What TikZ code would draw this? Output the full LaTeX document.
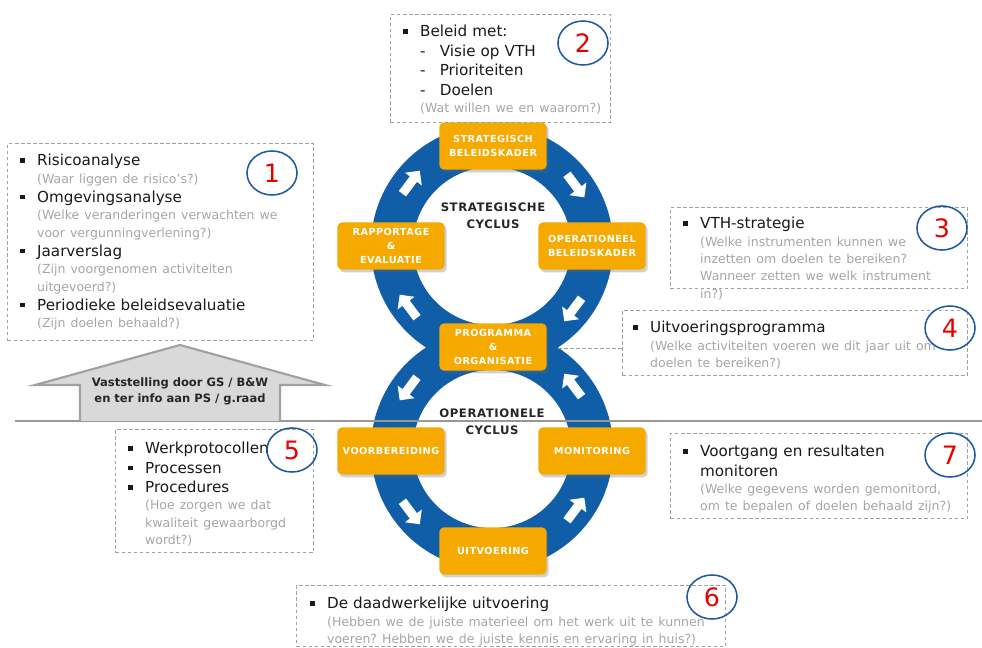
\documentclass[tikz,border=0pt]{standalone}
\usepackage{fontspec}
\setmainfont{DejaVu Sans}
\newfontfamily\lblfont[LetterSpace=5]{DejaVu Sans}
\usetikzlibrary{calc,shapes.geometric,shapes.arrows,shadows}
\frenchspacing

\definecolor{ringblue}{RGB}{17,94,168}
\definecolor{boxorange}{RGB}{246,170,0}
\definecolor{qgray}{RGB}{165,165,165}
\definecolor{dashgray}{RGB}{160,160,160}
\definecolor{housefill}{RGB}{217,217,217}
\definecolor{houseline}{RGB}{160,160,160}
\definecolor{numred}{RGB}{230,0,0}
\definecolor{circleblue}{RGB}{30,90,160}

\newlength\itemind \setlength\itemind{12pt}
\newcommand{\mfont}{\fontsize{10.8}{13.8}\selectfont}
\newcommand{\qfont}{\fontsize{8.9}{12.3}\selectfont}
\newcommand{\bitem}[1]{{\leftskip=\itemind\noindent\llap{\makebox[\itemind][l]{\rule[0.2em]{0.3em}{0.3em}}}#1\par}}
\newcommand{\ditem}[1]{{\leftskip=\itemind\noindent\makebox[14pt][l]{-}#1\par}}
\newcommand{\qtext}[1]{{\leftskip=\itemind\qfont\color{qgray}#1\par}}

\begin{document}
\begin{tikzpicture}[x=0.025cm, y=0.025cm,
  stage/.style={fill=boxorange, rounded corners=3pt, minimum width=2.675cm,
    minimum height=1.175cm, align=center, text=white,
    font=\lblfont\bfseries\fontsize{6.9}{10}\selectfont,
    drop shadow={shadow xshift=1.5pt, shadow yshift=-2pt, opacity=0.3, fill=black!60}},
  info/.style={draw=dashgray, dash pattern=on 2.5pt off 1.8pt, line width=0.7pt},
  infotext/.style={anchor=north west, inner sep=0pt, align=left, font=\mfont, text=black!90},
  num/.style={ellipse, draw=circleblue, line width=1.1pt, minimum width=1.25cm,
    minimum height=1.1cm, inner sep=0pt, text=numred, font=\fontsize{18}{18}\selectfont},
  ringarrow/.style={single arrow, fill=white, inner sep=3pt, minimum height=0.72cm,
    single arrow head extend=4.3pt},
  cyclelabel/.style={font=\lblfont\bfseries\fontsize{8.3}{12}\selectfont, text=black!85, align=center}]

\useasboundingbox (0,0) rectangle (982,-648);

% the two cycles
\coordinate (uc) at (492,-246);
\coordinate (lc) at (492,-449);
\fill[ringblue] (uc) circle (3.025cm) (lc) circle (3.025cm);
\fill[white] (uc) circle (1.975cm) (lc) circle (1.975cm);

\foreach \a/\n in {143/1, 37/2, -37/3, -143/4}
  \node[ringarrow, rotate=\a-90] (ua\n) at ($(uc)+(\a:2.575cm)$) {};
\foreach \a/\n in {143/1, 37/2, -37/3, -143/4}
  \node[ringarrow, rotate=\a+90] (la\n) at ($(lc)+(\a:2.575cm)$) {};

% separation line
\draw[houseline!95!black, line width=2pt] (15,-421) -- (982,-421);

% stages
\node[stage] (sb) at (493,-146) {STRATEGISCH\\BELEIDSKADER};
\node[stage] (re) at (391,-246) {RAPPORTAGE\\\&\\EVALUATIE};
\node[stage] (ob) at (592,-246) {OPERATIONEEL\\BELEIDSKADER};
\node[stage] (po) at (493,-347) {PROGRAMMA\\\&\\ORGANISATIE};
\node[stage] (vb) at (391,-451) {VOORBEREIDING};
\node[stage] (mo) at (592,-451) {MONITORING};
\node[stage] (ui) at (493,-551) {UITVOERING};

\node[cyclelabel] (strat) at (493,-216) {STRATEGISCHE\\CYCLUS};
\node[cyclelabel] (oper) at (492,-422) {OPERATIONELE\\CYCLUS};

% house arrow
\fill[housefill] (80,-421) -- (80,-385) -- (35,-385) -- (180,-345) -- (325,-385) -- (280,-385) -- (280,-421) -- cycle;
\draw[houseline, line width=1.5pt] (80,-421) -- (80,-385) -- (35,-385) -- (180,-345) -- (325,-385) -- (280,-385) -- (280,-421);
\node[font=\bfseries\fontsize{8.2}{11.3}\selectfont, align=center, text=black!85] (house) at (180,-391)
  {Vaststelling door GS / B\&W\\en ter info aan PS / g.raad};

% info boxes
\node[info, anchor=north west, minimum width=7.65cm, minimum height=4.925cm] (box1) at (7,-143) {};
\node[info, anchor=north west, minimum width=5.5cm, minimum height=2.7cm] (box2) at (390,-14) {};
\node[info, anchor=north west, minimum width=7.425cm, minimum height=2.025cm] (box3) at (670,-207) {};
\node[info, anchor=north west, minimum width=8.625cm, minimum height=1.625cm] (box4) at (622,-310) {};
\node[info, anchor=north west, minimum width=4.95cm, minimum height=3.075cm] (box5) at (115,-429) {};
\node[info, anchor=north west, minimum width=10.725cm, minimum height=1.525cm] (box6) at (296,-585) {};
\node[info, anchor=north west, minimum width=7.425cm, minimum height=2.125cm] (box7) at (670,-433) {};

\coordinate (cusp) at (558,-348);
\draw[info] (cusp) -- (cusp -| box4.west);

\node[infotext, text width=7.2cm] (txt1) at (20,-154) {%
  \bitem{Risicoanalyse}
  \qtext{(Waar liggen de risico's?)}
  \bitem{Omgevingsanalyse}
  \qtext{(Welke veranderingen verwachten we\\voor vergunningverlening?)}
  \bitem{Jaarverslag}
  \qtext{(Zijn voorgenomen activiteiten\\uitgevoerd?)}
  \bitem{Periodieke beleidsevaluatie}
  \qtext{(Zijn doelen behaald?)}};

\node[infotext, text width=5cm] (txt2) at (403,-25) {%
  \bitem{Beleid met:}
  \ditem{Visie op VTH}
  \ditem{Prioriteiten}
  \ditem{Doelen}
  \qtext{(Wat willen we en waarom?)}};

\node[infotext, text width=7cm] (txt3) at (683,-217) {%
  \bitem{VTH-strategie}
  \qtext{(Welke instrumenten kunnen we\\inzetten om doelen te bereiken?\\Wanneer zetten we welk instrument\\in?)}};

\node[infotext, text width=8.5cm] (txt4) at (633,-321) {%
  \bitem{Uitvoeringsprogramma}
  \qtext{(Welke activiteiten voeren we dit jaar uit om\\doelen te bereiken?)}};

\node[infotext, text width=4.8cm] (txt5) at (128,-442) {%
  \bitem{Werkprotocollen}
  \bitem{Processen}
  \bitem{Procedures}
  \qtext{(Hoe zorgen we dat\\kwaliteit gewaarborgd\\wordt?)}};

\node[infotext, text width=10.5cm] (txt6) at (310,-597) {%
  \bitem{De daadwerkelijke uitvoering}
  \qtext{(Hebben we de juiste materieel om het werk uit te kunnen\\voeren? Hebben we de juiste kennis en ervaring in huis?)}};

\node[infotext, text width=7cm] (txt7) at (683,-445) {%
  \bitem{Voortgang en resultaten\\monitoren}
  \qtext{(Welke gegevens worden gemonitord,\\om te bepalen of doelen behaald zijn?)}};

% numbers
\node[num] (n1) at (272,-173) {1};
\node[num] (n2) at (583,-43) {2};
\node[num] (n3) at (942,-228) {3};
\node[num] (n4) at (950,-328) {4};
\node[num] (n5) at (292,-450) {5};
\node[num] (n6) at (712,-597) {6};
\node[num] (n7) at (950,-455) {7};

\end{tikzpicture}
\end{document}
